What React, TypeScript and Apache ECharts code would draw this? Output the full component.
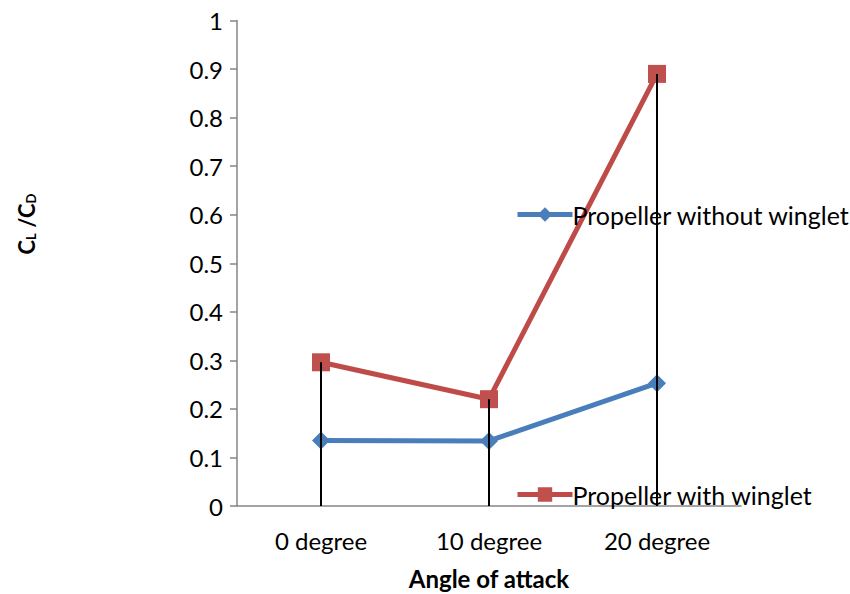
import React, { useEffect, useRef } from "react";
import * as echarts from "echarts";

const categories = ["0 degree", "10 degree", "20 degree"];
const withoutWinglet = [0.135, 0.134, 0.253];
const withWinglet = [0.296, 0.22, 0.89];
const yTicks = { min: 0, max: 1, interval: 0.1 };

const FONT = "Lato, 'Noto Sans', sans-serif";
const FS = 24;

export default function App() {
  const ref = useRef<HTMLDivElement>(null);
  useEffect(() => {
    if (!ref.current) return;
    const chart = echarts.init(ref.current, undefined, { renderer: "svg" });
    const dropData = categories.map((c, i) => [
      { coord: [c, Math.max(withWinglet[i], withoutWinglet[i])] },
      { coord: [c, 0] },
    ]);
    const legendCommon = {
      left: 515,
      padding: 0,
      itemWidth: 55,
      itemHeight: 18,
      itemGap: 0,
      lineStyle: { width: 5 },
      textStyle: { fontSize: 25, color: "#000", fontFamily: FONT, padding: [0, 0, 0, -5] },
    };
    chart.setOption({
      animation: false,
      backgroundColor: "#ffffff",
      textStyle: { fontFamily: FONT },
      grid: {
        left: 237,
        right: 109,
        top: 20.5,
        bottom: 88,
        containLabel: false,
        outerBoundsMode: "none",
      },
      legend: [
        { ...legendCommon, data: ["Propeller without winglet"], top: 202 },
        { ...legendCommon, data: ["Propeller with winglet"], top: 482 },
      ],
      graphic: [
        {
          type: "text",
          x: 26,
          y: 224,
          rotation: Math.PI / 2,
          style: {
            text: "{c|C}{s|L}{c| /C}{s|D}",
            align: "center",
            verticalAlign: "middle",
            rich: {
              c: { fontSize: 22, fontWeight: "bold", fill: "#000", fontFamily: FONT },
              s: { fontSize: 13, fontWeight: "bold", fill: "#000", fontFamily: FONT, padding: [10, 0, 0, 0] },
            },
          },
        },
      ],
      xAxis: {
        type: "category",
        data: categories,
        boundaryGap: true,
        axisLine: { lineStyle: { color: "#868686", width: 1.5 } },
        axisTick: { show: false },
        axisLabel: { fontSize: FS, color: "#000", margin: 22, fontFamily: FONT },
        name: "Angle of attack",
        nameLocation: "middle",
        nameGap: 60,
        nameTextStyle: { fontSize: FS, fontWeight: "bold", color: "#000", fontFamily: FONT },
      },
      yAxis: {
        type: "value",
        min: yTicks.min,
        max: yTicks.max,
        interval: yTicks.interval,
        splitLine: { show: false },
        axisLine: { show: true, lineStyle: { color: "#868686", width: 1.5 } },
        axisTick: { show: true, inside: false, length: 7, lineStyle: { color: "#868686", width: 1.5 } },
        axisLabel: { fontSize: FS, color: "#000", margin: 14, fontFamily: FONT },
      },
      series: [
        {
          name: "Propeller without winglet",
          type: "line",
          data: withoutWinglet,
          symbol: "diamond",
          symbolSize: 18,
          lineStyle: { color: "#4a7ebb", width: 5 },
          itemStyle: { color: "#4a7ebb" },
          z: 2,
        },
        {
          name: "Propeller with winglet",
          type: "line",
          data: withWinglet,
          symbol: "rect",
          symbolSize: 18,
          lineStyle: { color: "#be4b48", width: 5 },
          itemStyle: { color: "#c0504d" },
          z: 3,
          markLine: {
            silent: true,
            symbol: "none",
            label: { show: false },
            lineStyle: { color: "#000", width: 2, type: "solid" },
            z: 10,
            data: dropData,
          },
        },
      ],
    });
    return () => chart.dispose();
  }, []);
  return <div ref={ref} style={{ width: 850, height: 594, position: "absolute", left: 0, top: 0 }} />;
}
